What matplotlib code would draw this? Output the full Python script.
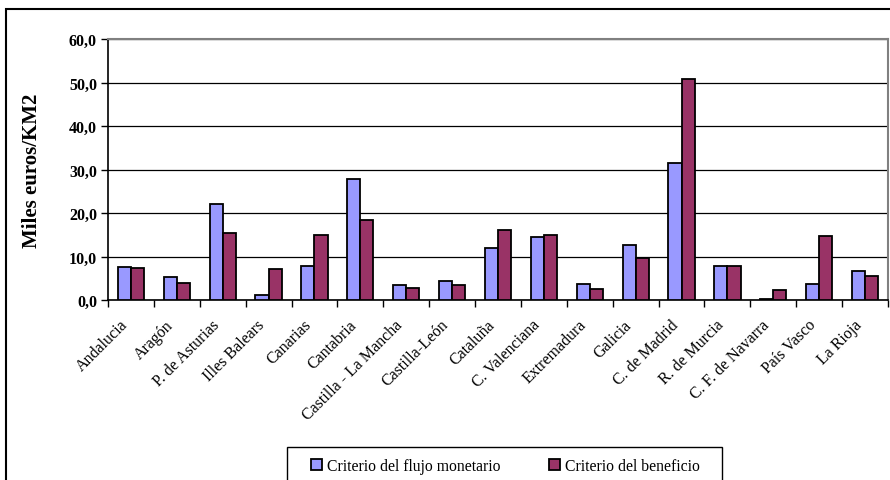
import numpy as np
import matplotlib
matplotlib.use('Agg')
import matplotlib.pyplot as plt
import matplotlib.transforms as mtransforms
from matplotlib.patches import Rectangle

regiones = ['Andalucia', 'Aragón', 'P. de Asturias', 'Illes Balears', 'Canarias',
            'Cantabria', 'Castilla - La Mancha', 'Castilla-León', 'Cataluña',
            'C. Valenciana', 'Extremadura', 'Galicia', 'C. de Madrid', 'R. de Murcia',
            'C. F. de Navarra', 'País Vasco', 'La Rioja']
flujo = [7.6, 5.3, 22.0, 1.1, 7.8, 27.8, 3.5, 4.4, 11.9, 14.4, 3.6, 12.6, 31.4, 7.8, 0.2, 3.7, 6.6]
beneficio = [7.4, 3.9, 15.4, 7.1, 14.9, 18.3, 2.8, 3.5, 16.0, 14.9, 2.6, 9.7, 50.7, 7.8, 2.4, 14.6, 5.5]
yticks = [0, 10, 20, 30, 40, 50, 60]

plt.rcParams['font.family'] = ['Liberation Serif', 'DejaVu Serif']

W, H = 890, 481
fig = plt.figure(figsize=(W / 100, H / 100), dpi=100)
ax = fig.add_axes([108 / W, 1 - 301 / H, (888 - 108) / W, (301 - 40) / H])

# outer chart border (partly cut by the image edges)
fig.patches.append(Rectangle((6 / W, -0.2), 1.2, 1.2 - 10 / H, transform=fig.transFigure,
                             fill=False, edgecolor='black', linewidth=1.5, zorder=0))
# legend box
fig.patches.append(Rectangle((287 / W, -0.1), (722 - 287) / W, 0.1 + 1 - 448 / H,
                             transform=fig.transFigure, fill=False, edgecolor='black',
                             linewidth=1.0, zorder=1))

x = np.arange(len(regiones))
bw = 1 / 3.5
ax.bar(x - bw / 2, flujo, bw, color='#9999FF', edgecolor='black', linewidth=1.3,
       label='Criterio del flujo monetario', zorder=3)
ax.bar(x + bw / 2, beneficio, bw, color='#993366', edgecolor='black', linewidth=1.3,
       label='Criterio del beneficio', zorder=3)

ax.set_xlim(-0.5, len(regiones) - 0.5)
ax.set_ylim(0, 60)
ax.set_yticks(yticks)
ax.set_yticklabels([('%.1f' % v).replace('.', ',') for v in yticks], fontweight='bold', fontsize=11.5)
ax.yaxis.grid(True, color='black', linewidth=0.9, zorder=0)
ax.set_axisbelow(True)

ax.set_xticks(np.arange(len(regiones) + 1) - 0.5)
ax.set_xticklabels([])
ax.set_xticks(x, minor=True)
ax.set_xticklabels(regiones, minor=True, rotation=45, ha='right', va='center',
                   rotation_mode='anchor', fontsize=11.5)
ax.tick_params(axis='x', which='minor', length=0, pad=16)
ax.tick_params(axis='x', which='major', length=5, width=1, direction='out')
ax.tick_params(axis='y', length=5, width=1, direction='out', pad=3)
shift = mtransforms.ScaledTranslation(-6 / 100, 0, fig.dpi_scale_trans)
for lbl in ax.get_xticklabels(minor=True):
    lbl.set_transform(lbl.get_transform() + shift)

ax.set_ylabel('Miles euros/KM2', fontweight='bold', fontsize=15, labelpad=19)

for s in ['left', 'bottom']:
    ax.spines[s].set_color('black')
    ax.spines[s].set_linewidth(1.2)
for s in ['top', 'right']:
    ax.spines[s].set_color('#808080')
    ax.spines[s].set_linewidth(1.5)

leg = fig.legend(loc='center left', bbox_to_anchor=(311 / W, 1 - 467 / H), ncol=2,
                 fontsize=11.3, frameon=False,
                 handlelength=0.7, handleheight=0.7, handletextpad=0.3,
                 columnspacing=3.1, borderpad=0, borderaxespad=0)

fig.savefig('out.png', dpi=100)
